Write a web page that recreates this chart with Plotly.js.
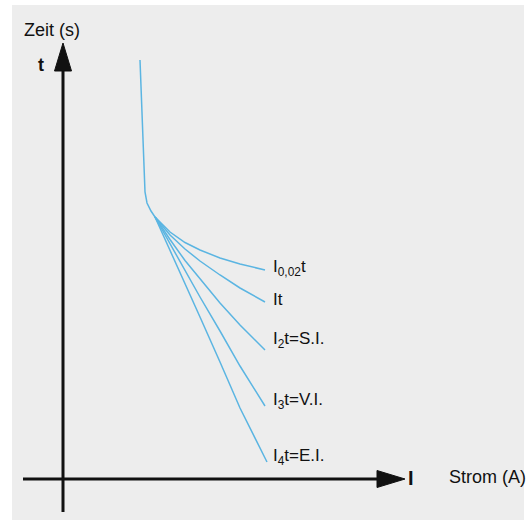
<!DOCTYPE html>
<html>
<head>
<meta charset="utf-8">
<script src="https://cdn.plot.ly/plotly-3.0.1.min.js"></script>
<style>html,body{margin:0;padding:0;background:#fff;}#chart{width:526px;height:520px;}</style>
</head>
<body>
<div id="chart"></div>
<script>
// Conceptual time-current characteristic (arbitrary units: current I, time t)
var trunkX = [7.7, 7.9, 8.1, 8.2, 8.4, 8.8, 9.2];
var trunkY = [41.9, 35.9, 30.9, 28.7, 27.6, 26.8, 26.2];

var branchX  = [9.2, 10.7, 12.2, 13.7, 15.7, 17.7, 20.2];
var branchX5 = [9.2, 10.7, 12.2, 13.7, 15.7, 17.7, 20.4];
var curveI002 = [26.2, 24.7, 23.65, 22.9, 22.1, 21.5, 20.9];
var curveI1   = [26.2, 24.4, 23.0, 21.8, 20.4, 19.1, 17.7];
var curveI2   = [26.2, 23.95, 21.85, 20.0, 17.6, 15.4, 12.9];
var curveI3   = [26.2, 23.5, 20.8, 18.2, 14.8, 11.3, 7.3];
var curveI4   = [26.2, 22.9, 19.6, 16.2, 11.7, 7.1, 1.7];

var curveLabels = ["I<sub>0,02</sub>t", "It", "I<sub>2</sub>t=S.I.", "I<sub>3</sub>t=V.I.", "I<sub>4</sub>t=E.I."];
var labelX = 20.8;
var labelY = [21.1, 18.0, 13.9, 7.8, 2.2];

var axisXLabel = "Strom (A)";
var axisYLabel = "Zeit (s)";
var axisXSymbol = "I";
var axisYSymbol = "t";

var lineColor = "#5bb5e2";
var font = "Liberation Sans, Arial, Helvetica, sans-serif";

function curve(x, y) {
  return {x: x, y: y, mode: "lines", type: "scatter",
          line: {color: lineColor, width: 1.5}, hoverinfo: "skip", showlegend: false};
}

var data = [
  curve(trunkX, trunkY),
  curve(branchX, curveI002),
  curve(branchX, curveI1),
  curve(branchX, curveI2),
  curve(branchX, curveI3),
  curve(branchX5, curveI4)
];

var annotations = curveLabels.map(function (t, i) {
  return {x: labelX, y: labelY[i], xref: "x", yref: "y", text: t, showarrow: false,
          xanchor: "left", yanchor: "middle", font: {family: font, size: 17, color: "#111"}};
});
annotations.push({x: -4.1, y: 44.9, xref: "x", yref: "y", text: axisYLabel, showarrow: false,
                  xanchor: "left", yanchor: "middle", font: {family: font, size: 18, color: "#111"}});
annotations.push({x: -2.2, y: 41.4, xref: "x", yref: "y", text: "<b>" + axisYSymbol + "</b>", showarrow: false,
                  xanchor: "center", yanchor: "middle", font: {family: font, size: 18, color: "#111"}});
annotations.push({x: 34.75, y: 0.1, xref: "x", yref: "y", text: "<b>" + axisXSymbol + "</b>", showarrow: false,
                  xanchor: "center", yanchor: "middle", font: {family: font, size: 20, color: "#111"}});
annotations.push({x: 38.4, y: 0.2, xref: "x", yref: "y", text: axisXLabel, showarrow: false,
                  xanchor: "left", yanchor: "middle", font: {family: font, size: 18, color: "#111"}});

var shapes = [
  {type: "line", xref: "x", yref: "y", x0: 0, x1: 0, y0: -3.3, y1: 41.2, line: {color: "#111", width: 3}},
  {type: "path", xref: "x", yref: "y", path: "M 0 43.6 L -0.85 40.8 L 0.85 40.8 Z", fillcolor: "#111", line: {color: "#111", width: 1}},
  {type: "line", xref: "x", yref: "y", x0: -4.0, x1: 31.8, y0: 0, y1: 0, line: {color: "#111", width: 3}},
  {type: "path", xref: "x", yref: "y", path: "M 34.2 0 L 31.4 0.85 L 31.4 -0.85 Z", fillcolor: "#111", line: {color: "#111", width: 1}}
];

var layout = {
  width: 526, height: 520,
  margin: {l: 12, r: 2, t: 5, b: 0, pad: 0},
  paper_bgcolor: "#ffffff",
  plot_bgcolor: "#ededed",
  xaxis: {range: [-5.1, 46.1], showgrid: false, zeroline: false, showticklabels: false, showline: false, ticks: "", fixedrange: true},
  yaxis: {range: [-4.1, 47.4], showgrid: false, zeroline: false, showticklabels: false, showline: false, ticks: "", fixedrange: true},
  annotations: annotations,
  shapes: shapes,
  showlegend: false,
  hovermode: false
};

Plotly.newPlot("chart", data, layout, {displayModeBar: false, staticPlot: true});
</script>
</body>
</html>
